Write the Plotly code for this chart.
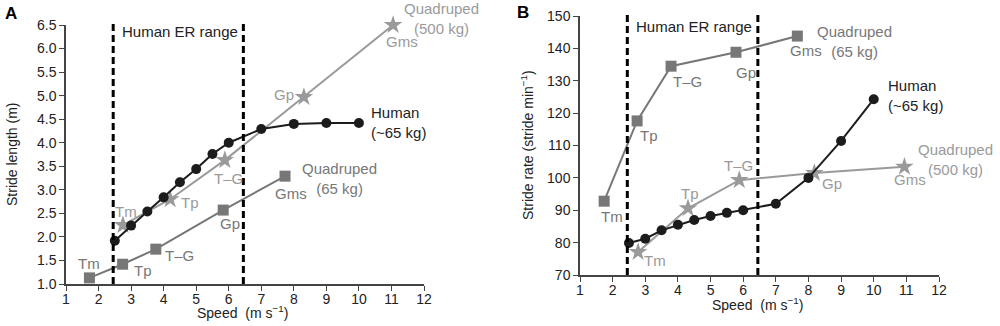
import plotly.graph_objects as go

# ---------------- data ----------------
speed_human = [2.5, 3.0, 3.5, 4.0, 4.5, 5.0, 5.5, 6.0, 7.0, 8.0, 9.0, 10.0]
length_human = [1.92, 2.24, 2.54, 2.84, 3.16, 3.44, 3.76, 4.0, 4.29, 4.40, 4.42, 4.42]
rate_human = [79.9, 81.2, 83.8, 85.5, 87.0, 88.2, 89.2, 90.0, 92.0, 100.0, 111.4, 124.3]

gait_labels = ["Tm", "Tp", "T\u2013G", "Gp", "Gms"]

# quadruped 500 kg (stars)
speed_q500_len = [2.75, 4.2, 5.88, 8.31, 11.05]
length_q500 = [2.25, 2.80, 3.63, 4.97, 6.5]
speed_q500_rate = [2.78, 4.31, 5.88, 8.18, 10.94]
rate_q500 = [77.1, 90.6, 99.3, 101.5, 103.4]

# quadruped 65 kg (squares)
speed_q65_len = [1.72, 2.74, 3.76, 5.83, 7.73]
length_q65 = [1.13, 1.42, 1.74, 2.57, 3.29]
speed_q65_rate = [1.74, 2.75, 3.79, 5.78, 7.66]
rate_q65 = [92.8, 117.6, 134.5, 138.8, 143.8]

er_range = [2.45, 6.45]
x_ticks = list(range(1, 13))
y_ticks_len = [1.0, 1.5, 2.0, 2.5, 3.0, 3.5, 4.0, 4.5, 5.0, 5.5, 6.0, 6.5]
y_ticks_rate = [70, 80, 90, 100, 110, 120, 130, 140, 150]

# ---------------- style ----------------
FONT = "Liberation Sans, Arial, Helvetica, sans-serif"
C_HUMAN = "#1c1c1c"
C_Q500 = "#9a9a9a"
C_Q65 = "#777777"
TXT = "#222222"
W, H = 1000, 326


def dom_x(p0, p1):
    return [p0 / W, p1 / W]


def dom_y(top, bottom):
    return [(H - bottom) / H, (H - top) / H]


fig = go.Figure()


def add_series(x, y, xa, ya, color, symbol, size, lw):
    fig.add_trace(go.Scatter(
        x=x, y=y, xaxis=xa, yaxis=ya, mode="lines+markers",
        line=dict(color=color, width=lw),
        marker=dict(symbol=symbol, size=size, color=color, line=dict(width=0)),
        cliponaxis=False, showlegend=False, hoverinfo="skip"))


# Panel A
add_series(speed_q65_len, length_q65, "x", "y", C_Q65, "square", 11, 2)
add_series(speed_q500_len, length_q500, "x", "y", C_Q500, "star", 14, 2)
add_series(speed_human, length_human, "x", "y", C_HUMAN, "circle", 10, 2)
# Panel B
add_series(speed_q65_rate, rate_q65, "x2", "y2", C_Q65, "square", 11, 2)
add_series(speed_q500_rate, rate_q500, "x2", "y2", C_Q500, "star", 14, 2)
add_series(speed_human, rate_human, "x2", "y2", C_HUMAN, "circle", 10, 2)

axis_common = dict(showgrid=False, zeroline=False, showline=True, linecolor="#444",
                   linewidth=1.5, ticks="outside", ticklen=5, tickwidth=1.3,
                   tickcolor="#444", automargin=False,
                   tickfont=dict(family=FONT, size=14, color=TXT))

fig.update_layout(
    width=W, height=H, margin=dict(l=0, r=0, t=0, b=0, pad=0, autoexpand=False),
    paper_bgcolor="white", plot_bgcolor="white",
    xaxis=dict(domain=dom_x(66, 424), range=[1, 12], tickvals=x_ticks, anchor="y",
               ticklabelstandoff=-4, **axis_common),
    yaxis=dict(domain=dom_y(25, 284), range=[1.0, 6.5], tickvals=y_ticks_len, tickformat=".1f",
               anchor="x", **axis_common),
    xaxis2=dict(domain=dom_x(580, 939), range=[1, 12], tickvals=x_ticks, anchor="y2",
                ticklabelstandoff=-4, **axis_common),
    yaxis2=dict(domain=dom_y(16, 275), range=[70, 150], tickvals=y_ticks_rate, anchor="x2",
                **axis_common),
)

# dashed ER range lines
for xa, ya in (("x", "y"), ("x2", "y2")):
    for xv in er_range:
        fig.add_shape(type="line", xref=xa, yref=ya + " domain", x0=xv, x1=xv, y0=0, y1=1.008,
                      line=dict(color="black", width=3, dash="7px,4px"))


def ann(text, x, y, xa, ya, color, xs=0, ys=0, xanchor="center", size=15, align="center"):
    fig.add_annotation(text=text, x=x, y=y, xref=xa, yref=ya, showarrow=False,
                       xshift=xs, yshift=ys, xanchor=xanchor, yanchor="middle", align=align,
                       font=dict(family=FONT, size=size, color=color))


# "Human ER range"
ann("Human ER range", er_range[0], 1.0, "x", "y domain", TXT, xs=7, ys=-6, xanchor="left")
ann("Human ER range", er_range[0], 1.0, "x2", "y2 domain", TXT, xs=7, ys=-10, xanchor="left")

# Panel A labels
offs_q500_A = [(3, 14), (20, -3), (4, -18), (-20, 3), (9, -16)]
for lab, xv, yv, (dx, dy) in zip(gait_labels, speed_q500_len, length_q500, offs_q500_A):
    ann(lab, xv, yv, "x", "y", C_Q500, dx, dy)
offs_q65_A = [(0, 14), (20, -6), (24, -6), (7, -13), (6, -17)]
for lab, xv, yv, (dx, dy) in zip(gait_labels, speed_q65_len, length_q65, offs_q65_A):
    ann(lab, xv, yv, "x", "y", C_Q65, dx, dy)
ann("Quadruped<br>(500 kg)", speed_q500_len[-1], length_q500[-1], "x", "y", C_Q500, 48, 7)
ann("Quadruped<br>(65 kg)", speed_q65_len[-1], length_q65[-1], "x", "y", C_Q65, 54, -2)
ann("Human<br>(~65 kg)", speed_human[-1], length_human[-1], "x", "y", TXT, 10, 0,
    xanchor="left", align="left")

# Panel B labels
offs_q500_B = [(17, -8), (2, 15), (-1, 15), (18, -10), (6, -13)]
for lab, xv, yv, (dx, dy) in zip(gait_labels, speed_q500_rate, rate_q500, offs_q500_B):
    ann(lab, xv, yv, "x2", "y2", C_Q500, dx, dy)
offs_q65_B = [(8, -15), (12, -15), (16, -15), (10, -20), (9, -14)]
for lab, xv, yv, (dx, dy) in zip(gait_labels, speed_q65_rate, rate_q65, offs_q65_B):
    ann(lab, xv, yv, "x2", "y2", C_Q65, dx, dy)
ann("Quadruped<br>(500 kg)", speed_q500_rate[-1], rate_q500[-1], "x2", "y2", C_Q500, 51, 7)
ann("Quadruped<br>(65 kg)", speed_q65_rate[-1], rate_q65[-1], "x2", "y2", C_Q65, 57, -5)
ann("Human<br>(~65 kg)", speed_human[-1], rate_human[-1], "x2", "y2", TXT, 12, 4,
    xanchor="left", align="left")


# axis titles & panel letters (paper coords, given as screen pixels)
def pann(text, px, py, size=14, angle=0, color=TXT):
    fig.add_annotation(text=text, x=px / W, y=1 - py / H,
                       xref="paper", yref="paper",
                       showarrow=False, textangle=angle, xanchor="center", yanchor="middle",
                       font=dict(family=FONT, size=size, color=color))


pann("Stride length (m)", 12, 155, angle=-90)
pann("Speed  (m s<sup>\u22121</sup>)", 242, 312)
pann("Stride rate (stride min<sup>\u22121</sup>)", 527, 145, angle=-90)
pann("Speed  (m s<sup>\u22121</sup>)", 757, 304)
pann("<b>A</b>", 11, 14, size=17, color="black")
pann("<b>B</b>", 523, 13, size=17, color="black")

# remove the browser's default page margin so the figure sits at the window origin
fig.write_html("out.html",
               config={"displayModeBar": False},
               post_script="document.body.style.margin='0';document.body.style.padding='0';")
